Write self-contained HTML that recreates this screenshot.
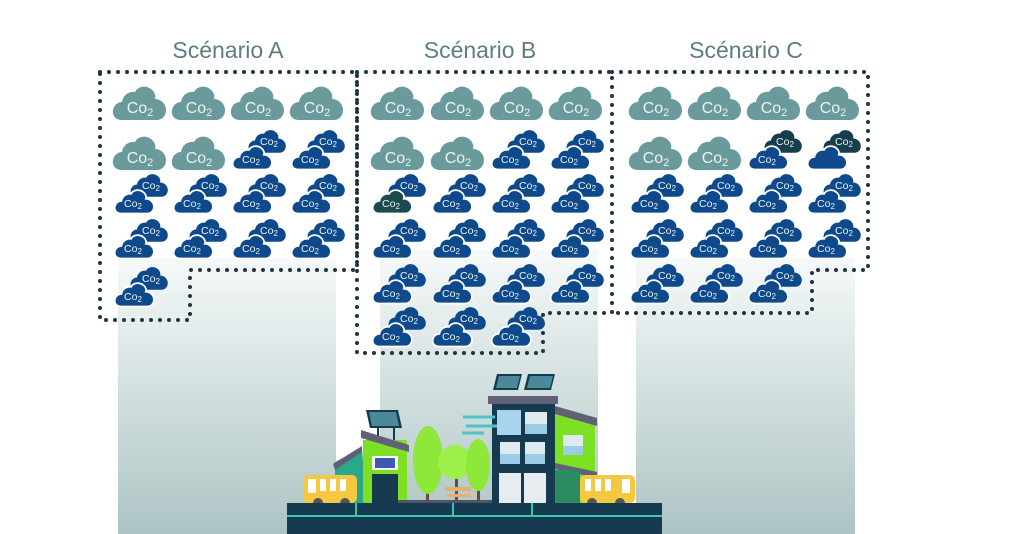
<!DOCTYPE html>
<html><head><meta charset="utf-8"><style>
body{margin:0;background:#fff;width:1024px;height:534px;overflow:hidden}
svg{display:block}
.l{font-family:"Liberation Sans",sans-serif;fill:#eaf4f4;text-anchor:middle}
.b{font-size:16px}.s{font-size:10.5px}
.h{font-family:"Liberation Sans",sans-serif;font-size:23px;fill:#5d7d80;text-anchor:middle}
</style></head><body>
<svg width="1024" height="534" viewBox="0 0 1024 534">
<defs>
<linearGradient id="g" x1="0" y1="0" x2="0" y2="1"><stop offset="0" stop-color="#f6f9f9"/><stop offset="1" stop-color="#adc4c4"/></linearGradient>
<path id="c" d="M10,35 C3,35 0,30 1,25 C2,20 6,17 10,17 C11,10 17,6 23,7 C26,1 34,0 39,4 C43,7 44,11 43,14 C49,14 54,19 54,25 C54,31 50,35 45,35 Z"/>
<g id="t"><use href="#c" fill="#6a9a9b"/></g>
<g id="d"><use href="#c" fill="#0e4a8b" transform="translate(16,0) scale(0.7,0.68)"/><use href="#c" fill="#0e4a8b" stroke="#fff" stroke-width="2.5" transform="translate(0,16) scale(0.74,0.7)"/></g>
<g id="dk"><use href="#c" fill="#0e4a8b" transform="translate(16,0) scale(0.7,0.68)"/><use href="#c" fill="#1c4a4e" stroke="#fff" stroke-width="2.5" transform="translate(0,16) scale(0.74,0.7)"/></g>
<g id="db"><use href="#c" fill="#173e4c" transform="translate(16,0) scale(0.7,0.68)"/><use href="#c" fill="#0e4a8b" stroke="#fff" stroke-width="2.5" transform="translate(0,16) scale(0.74,0.7)"/></g>
</defs>
<rect x="118" y="258" width="218" height="276" fill="url(#g)"/>
<rect x="380" y="250" width="218" height="284" fill="url(#g)"/>
<rect x="636" y="258" width="219" height="276" fill="url(#g)"/>
<text class="h" x="228" y="58">Scénario A</text>
<text class="h" x="480" y="58">Scénario B</text>
<text class="h" x="746" y="58">Scénario C</text>
<g fill="none" stroke="#1e3441" stroke-width="4" stroke-linecap="round" stroke-dasharray="0 9">
<path d="M100,72 H357 V270 H190 V320 H100 Z"/>
<path d="M357,72 H612 V313 H543 V353 H357 Z"/>
<path d="M612,72 H868 V270 H812 V313 H612"/>
</g>
<g>
<g transform="translate(112,85)"><use href="#t"/><text class="l b" x="28" y="28">Co<tspan font-size="11" dy="3">2</tspan></text></g>
<g transform="translate(171,85)"><use href="#t"/><text class="l b" x="28" y="28">Co<tspan font-size="11" dy="3">2</tspan></text></g>
<g transform="translate(230,85)"><use href="#t"/><text class="l b" x="28" y="28">Co<tspan font-size="11" dy="3">2</tspan></text></g>
<g transform="translate(289,85)"><use href="#t"/><text class="l b" x="28" y="28">Co<tspan font-size="11" dy="3">2</tspan></text></g>
<g transform="translate(112,135)"><use href="#t"/><text class="l b" x="28" y="28">Co<tspan font-size="11" dy="3">2</tspan></text></g>
<g transform="translate(171,135)"><use href="#t"/><text class="l b" x="28" y="28">Co<tspan font-size="11" dy="3">2</tspan></text></g>
<g transform="translate(370,85)"><use href="#t"/><text class="l b" x="28" y="28">Co<tspan font-size="11" dy="3">2</tspan></text></g>
<g transform="translate(430,85)"><use href="#t"/><text class="l b" x="28" y="28">Co<tspan font-size="11" dy="3">2</tspan></text></g>
<g transform="translate(489,85)"><use href="#t"/><text class="l b" x="28" y="28">Co<tspan font-size="11" dy="3">2</tspan></text></g>
<g transform="translate(548,85)"><use href="#t"/><text class="l b" x="28" y="28">Co<tspan font-size="11" dy="3">2</tspan></text></g>
<g transform="translate(370,135)"><use href="#t"/><text class="l b" x="28" y="28">Co<tspan font-size="11" dy="3">2</tspan></text></g>
<g transform="translate(430,135)"><use href="#t"/><text class="l b" x="28" y="28">Co<tspan font-size="11" dy="3">2</tspan></text></g>
<g transform="translate(628,85)"><use href="#t"/><text class="l b" x="28" y="28">Co<tspan font-size="11" dy="3">2</tspan></text></g>
<g transform="translate(687,85)"><use href="#t"/><text class="l b" x="28" y="28">Co<tspan font-size="11" dy="3">2</tspan></text></g>
<g transform="translate(746,85)"><use href="#t"/><text class="l b" x="28" y="28">Co<tspan font-size="11" dy="3">2</tspan></text></g>
<g transform="translate(805,85)"><use href="#t"/><text class="l b" x="28" y="28">Co<tspan font-size="11" dy="3">2</tspan></text></g>
<g transform="translate(628,135)"><use href="#t"/><text class="l b" x="28" y="28">Co<tspan font-size="11" dy="3">2</tspan></text></g>
<g transform="translate(687,135)"><use href="#t"/><text class="l b" x="28" y="28">Co<tspan font-size="11" dy="3">2</tspan></text></g>
</g>
<g>
<g transform="translate(232,129)"><use href="#d"/><text class="l s" x="37" y="16">Co<tspan font-size="8" dy="2">2</tspan></text><text class="l s" x="19" y="34">Co<tspan font-size="8" dy="2">2</tspan></text></g>
<g transform="translate(291,129)"><use href="#d"/><text class="l s" x="37" y="16">Co<tspan font-size="8" dy="2">2</tspan></text><text class="l s" x="19" y="34">Co<tspan font-size="8" dy="2">2</tspan></text></g>
<g transform="translate(114,173)"><use href="#d"/><text class="l s" x="37" y="16">Co<tspan font-size="8" dy="2">2</tspan></text><text class="l s" x="19" y="34">Co<tspan font-size="8" dy="2">2</tspan></text></g>
<g transform="translate(173,173)"><use href="#d"/><text class="l s" x="37" y="16">Co<tspan font-size="8" dy="2">2</tspan></text><text class="l s" x="19" y="34">Co<tspan font-size="8" dy="2">2</tspan></text></g>
<g transform="translate(232,173)"><use href="#d"/><text class="l s" x="37" y="16">Co<tspan font-size="8" dy="2">2</tspan></text><text class="l s" x="19" y="34">Co<tspan font-size="8" dy="2">2</tspan></text></g>
<g transform="translate(291,173)"><use href="#d"/><text class="l s" x="37" y="16">Co<tspan font-size="8" dy="2">2</tspan></text><text class="l s" x="19" y="34">Co<tspan font-size="8" dy="2">2</tspan></text></g>
<g transform="translate(114,218)"><use href="#d"/><text class="l s" x="37" y="16">Co<tspan font-size="8" dy="2">2</tspan></text><text class="l s" x="19" y="34">Co<tspan font-size="8" dy="2">2</tspan></text></g>
<g transform="translate(173,218)"><use href="#d"/><text class="l s" x="37" y="16">Co<tspan font-size="8" dy="2">2</tspan></text><text class="l s" x="19" y="34">Co<tspan font-size="8" dy="2">2</tspan></text></g>
<g transform="translate(232,218)"><use href="#d"/><text class="l s" x="37" y="16">Co<tspan font-size="8" dy="2">2</tspan></text><text class="l s" x="19" y="34">Co<tspan font-size="8" dy="2">2</tspan></text></g>
<g transform="translate(291,218)"><use href="#d"/><text class="l s" x="37" y="16">Co<tspan font-size="8" dy="2">2</tspan></text><text class="l s" x="19" y="34">Co<tspan font-size="8" dy="2">2</tspan></text></g>
<g transform="translate(114,266)"><use href="#d"/><text class="l s" x="37" y="16">Co<tspan font-size="8" dy="2">2</tspan></text><text class="l s" x="19" y="34">Co<tspan font-size="8" dy="2">2</tspan></text></g>

<g transform="translate(491,129)"><use href="#d"/><text class="l s" x="37" y="16">Co<tspan font-size="8" dy="2">2</tspan></text><text class="l s" x="19" y="34">Co<tspan font-size="8" dy="2">2</tspan></text></g>
<g transform="translate(550,129)"><use href="#d"/><text class="l s" x="37" y="16">Co<tspan font-size="8" dy="2">2</tspan></text><text class="l s" x="19" y="34">Co<tspan font-size="8" dy="2">2</tspan></text></g>
<g transform="translate(372,173)"><use href="#dk"/><text class="l s" x="37" y="16">Co<tspan font-size="8" dy="2">2</tspan></text><text class="l s" x="19" y="34">Co<tspan font-size="8" dy="2">2</tspan></text></g>
<g transform="translate(432,173)"><use href="#d"/><text class="l s" x="37" y="16">Co<tspan font-size="8" dy="2">2</tspan></text><text class="l s" x="19" y="34">Co<tspan font-size="8" dy="2">2</tspan></text></g>
<g transform="translate(491,173)"><use href="#d"/><text class="l s" x="37" y="16">Co<tspan font-size="8" dy="2">2</tspan></text><text class="l s" x="19" y="34">Co<tspan font-size="8" dy="2">2</tspan></text></g>
<g transform="translate(550,173)"><use href="#d"/><text class="l s" x="37" y="16">Co<tspan font-size="8" dy="2">2</tspan></text><text class="l s" x="19" y="34">Co<tspan font-size="8" dy="2">2</tspan></text></g>
<g transform="translate(372,218)"><use href="#d"/><text class="l s" x="37" y="16">Co<tspan font-size="8" dy="2">2</tspan></text><text class="l s" x="19" y="34">Co<tspan font-size="8" dy="2">2</tspan></text></g>
<g transform="translate(432,218)"><use href="#d"/><text class="l s" x="37" y="16">Co<tspan font-size="8" dy="2">2</tspan></text><text class="l s" x="19" y="34">Co<tspan font-size="8" dy="2">2</tspan></text></g>
<g transform="translate(491,218)"><use href="#d"/><text class="l s" x="37" y="16">Co<tspan font-size="8" dy="2">2</tspan></text><text class="l s" x="19" y="34">Co<tspan font-size="8" dy="2">2</tspan></text></g>
<g transform="translate(550,218)"><use href="#d"/><text class="l s" x="37" y="16">Co<tspan font-size="8" dy="2">2</tspan></text><text class="l s" x="19" y="34">Co<tspan font-size="8" dy="2">2</tspan></text></g>
<g transform="translate(372,263)"><use href="#d"/><text class="l s" x="37" y="16">Co<tspan font-size="8" dy="2">2</tspan></text><text class="l s" x="19" y="34">Co<tspan font-size="8" dy="2">2</tspan></text></g>
<g transform="translate(432,263)"><use href="#d"/><text class="l s" x="37" y="16">Co<tspan font-size="8" dy="2">2</tspan></text><text class="l s" x="19" y="34">Co<tspan font-size="8" dy="2">2</tspan></text></g>
<g transform="translate(491,263)"><use href="#d"/><text class="l s" x="37" y="16">Co<tspan font-size="8" dy="2">2</tspan></text><text class="l s" x="19" y="34">Co<tspan font-size="8" dy="2">2</tspan></text></g>
<g transform="translate(550,263)"><use href="#d"/><text class="l s" x="37" y="16">Co<tspan font-size="8" dy="2">2</tspan></text><text class="l s" x="19" y="34">Co<tspan font-size="8" dy="2">2</tspan></text></g>
<g transform="translate(372,306)"><use href="#d"/><text class="l s" x="37" y="16">Co<tspan font-size="8" dy="2">2</tspan></text><text class="l s" x="19" y="34">Co<tspan font-size="8" dy="2">2</tspan></text></g>
<g transform="translate(432,306)"><use href="#d"/><text class="l s" x="37" y="16">Co<tspan font-size="8" dy="2">2</tspan></text><text class="l s" x="19" y="34">Co<tspan font-size="8" dy="2">2</tspan></text></g>
<g transform="translate(491,306)"><use href="#d"/><text class="l s" x="37" y="16">Co<tspan font-size="8" dy="2">2</tspan></text><text class="l s" x="19" y="34">Co<tspan font-size="8" dy="2">2</tspan></text></g>

<g transform="translate(748,129)"><use href="#db"/><text class="l s" x="37" y="16">Co<tspan font-size="8" dy="2">2</tspan></text><text class="l s" x="19" y="34">Co<tspan font-size="8" dy="2">2</tspan></text></g>
<g transform="translate(807,129)"><use href="#db"/><text class="l s" x="37" y="16">Co<tspan font-size="8" dy="2">2</tspan></text></g>
<g transform="translate(630,173)"><use href="#d"/><text class="l s" x="37" y="16">Co<tspan font-size="8" dy="2">2</tspan></text><text class="l s" x="19" y="34">Co<tspan font-size="8" dy="2">2</tspan></text></g>
<g transform="translate(689,173)"><use href="#d"/><text class="l s" x="37" y="16">Co<tspan font-size="8" dy="2">2</tspan></text><text class="l s" x="19" y="34">Co<tspan font-size="8" dy="2">2</tspan></text></g>
<g transform="translate(748,173)"><use href="#d"/><text class="l s" x="37" y="16">Co<tspan font-size="8" dy="2">2</tspan></text><text class="l s" x="19" y="34">Co<tspan font-size="8" dy="2">2</tspan></text></g>
<g transform="translate(807,173)"><use href="#d"/><text class="l s" x="37" y="16">Co<tspan font-size="8" dy="2">2</tspan></text><text class="l s" x="19" y="34">Co<tspan font-size="8" dy="2">2</tspan></text></g>
<g transform="translate(630,218)"><use href="#d"/><text class="l s" x="37" y="16">Co<tspan font-size="8" dy="2">2</tspan></text><text class="l s" x="19" y="34">Co<tspan font-size="8" dy="2">2</tspan></text></g>
<g transform="translate(689,218)"><use href="#d"/><text class="l s" x="37" y="16">Co<tspan font-size="8" dy="2">2</tspan></text><text class="l s" x="19" y="34">Co<tspan font-size="8" dy="2">2</tspan></text></g>
<g transform="translate(748,218)"><use href="#d"/><text class="l s" x="37" y="16">Co<tspan font-size="8" dy="2">2</tspan></text><text class="l s" x="19" y="34">Co<tspan font-size="8" dy="2">2</tspan></text></g>
<g transform="translate(807,218)"><use href="#d"/><text class="l s" x="37" y="16">Co<tspan font-size="8" dy="2">2</tspan></text><text class="l s" x="19" y="34">Co<tspan font-size="8" dy="2">2</tspan></text></g>
<g transform="translate(630,263)"><use href="#d"/><text class="l s" x="37" y="16">Co<tspan font-size="8" dy="2">2</tspan></text><text class="l s" x="19" y="34">Co<tspan font-size="8" dy="2">2</tspan></text></g>
<g transform="translate(689,263)"><use href="#d"/><text class="l s" x="37" y="16">Co<tspan font-size="8" dy="2">2</tspan></text><text class="l s" x="19" y="34">Co<tspan font-size="8" dy="2">2</tspan></text></g>
<g transform="translate(748,263)"><use href="#d"/><text class="l s" x="37" y="16">Co<tspan font-size="8" dy="2">2</tspan></text><text class="l s" x="19" y="34">Co<tspan font-size="8" dy="2">2</tspan></text></g>
</g>
<g>
<polygon points="335,462 362,448 366,503 335,503" fill="#2aa88a"/>
<polygon points="333,464 362,446 362,452 335,470" fill="#5f5f7a"/>
<rect x="363" y="440" width="44" height="63" fill="#7ee025"/>
<polygon points="361,430 409,445 409,452 361,438" fill="#606077"/>
<rect x="372" y="474" width="26" height="29" fill="#163a50"/>
<rect x="372" y="456" width="26" height="14" fill="#fff"/><rect x="375" y="458" width="20" height="10" fill="#3a5bb0"/>
<line x1="378" y1="428" x2="378" y2="436" stroke="#163a50" stroke-width="2"/><line x1="394" y1="428" x2="394" y2="440" stroke="#163a50" stroke-width="2"/>
<polygon points="366,410 398,410 402,428 370,428" fill="#163a50"/><polygon points="369,412 396,412 399,426 372,426" fill="#4a8a98"/>
<rect x="426" y="465" width="3" height="38" fill="#6b4a3a"/><rect x="455" y="470" width="3" height="33" fill="#6b4a3a"/><rect x="477" y="470" width="3" height="33" fill="#6b4a3a"/>
<ellipse cx="428" cy="460" rx="15" ry="34" fill="#8de83a"/>
<ellipse cx="455" cy="462" rx="17" ry="17" fill="#9df04a"/>
<ellipse cx="478" cy="465" rx="12" ry="26" fill="#8de83a"/>
<rect x="445" y="487" width="26" height="4" fill="#e8b070"/><rect x="447" y="494" width="24" height="3" fill="#e8b070"/>
<rect x="398" y="500" width="100" height="5" fill="#4d5566"/>
<polygon points="555,410 595,422 595,503 555,503" fill="#7ee025"/>
<polygon points="555,406 597,418 597,426 555,414" fill="#606077"/>
<rect x="563" y="435" width="20" height="20" fill="#dfeaf0"/><rect x="563" y="446" width="20" height="9" fill="#9ccbe6"/>
<polygon points="555,463 597,472 597,478 555,469" fill="#606077"/>
<rect x="555" y="470" width="25" height="33" fill="#2a8a60"/>
<rect x="492" y="403" width="63" height="100" fill="#163a50"/>
<rect x="488" y="396" width="70" height="8" fill="#606077"/>
<rect x="497" y="410" width="24" height="25" fill="#aad4ee"/><rect x="525" y="412" width="22" height="22" fill="#dfeaf0"/><rect x="525" y="424" width="22" height="10" fill="#9ccbe6"/>
<rect x="500" y="442" width="20" height="22" fill="#dfeaf0"/><rect x="500" y="454" width="20" height="10" fill="#9ccbe6"/>
<rect x="525" y="442" width="20" height="22" fill="#dfeaf0"/><rect x="525" y="454" width="20" height="10" fill="#9ccbe6"/>
<rect x="499" y="473" width="22" height="30" fill="#e6ecef"/><rect x="524" y="473" width="22" height="30" fill="#e6ecef"/>
<polygon points="497,374 522,374 518,390 493,390" fill="#163a50"/><polygon points="499,376 520,376 517,388 496,388" fill="#4a8a98"/>
<polygon points="528,374 555,374 551,390 524,390" fill="#163a50"/><polygon points="530,376 553,376 550,388 527,388" fill="#4a8a98"/>
<g stroke="#4cc4c8" stroke-width="3" fill="none"><path d="M463,417 H495"/><path d="M466,426 H497"/><path d="M462,433 H484"/></g>
<rect x="303" y="475" width="54" height="28" rx="5" fill="#f5c842"/>
<rect x="308" y="479" width="8" height="14" fill="#fff"/><rect x="320" y="479" width="6" height="12" fill="#fff"/><rect x="330" y="479" width="6" height="12" fill="#fff"/><rect x="340" y="479" width="6" height="12" fill="#fff"/>
<circle cx="318" cy="503" r="5" fill="#555"/><circle cx="345" cy="503" r="5" fill="#555"/>
<rect x="580" y="475" width="55" height="28" rx="5" fill="#f5c842"/>
<rect x="585" y="479" width="6" height="12" fill="#fff"/><rect x="595" y="479" width="6" height="12" fill="#fff"/><rect x="605" y="479" width="6" height="12" fill="#fff"/><rect x="622" y="479" width="8" height="14" fill="#fff"/>
<circle cx="592" cy="503" r="5" fill="#555"/><circle cx="620" cy="503" r="5" fill="#555"/>
<rect x="287" y="503" width="375" height="31" fill="#163a50"/>
<rect x="287" y="515" width="375" height="2" fill="#3cc8a8"/>
<rect x="355" y="503" width="2" height="12" fill="#3cc8a8"/><rect x="452" y="503" width="2" height="12" fill="#3cc8a8"/><rect x="531" y="503" width="2" height="12" fill="#3cc8a8"/>
</g>
</svg>
</body></html>
